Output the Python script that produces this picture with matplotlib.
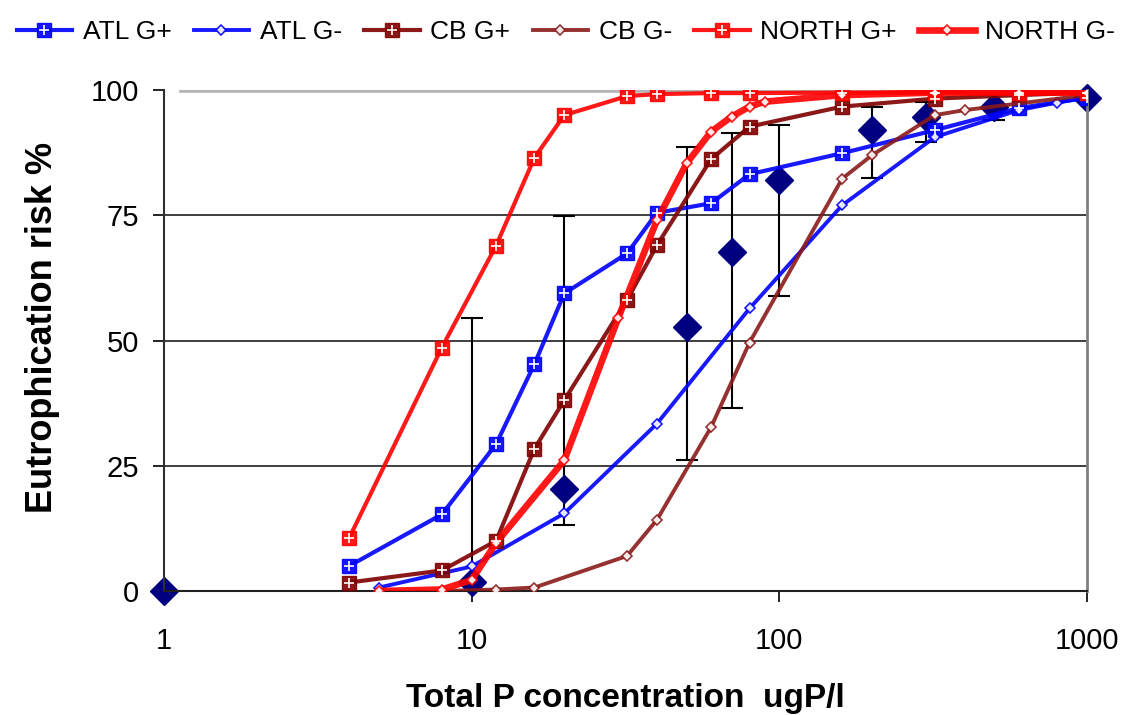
import matplotlib
matplotlib.use("Agg")
import matplotlib.pyplot as plt
from matplotlib.legend_handler import HandlerTuple

plt.rcParams['font.family'] = ['Liberation Sans', 'DejaVu Sans']

# model curves (risk %) against total P (ugP/l)
x_gplus = [4, 8, 12, 16, 20, 32, 40, 60, 80, 160, 320, 600, 1000]
atl_gplus = [5.0, 15.3, 29.3, 45.3, 59.4, 67.4, 75.5, 77.4, 83.2, 87.4, 92.0, 96.4, 98.5]
cb_gplus = [1.7, 4.1, 10.0, 28.4, 38.1, 58.1, 69.0, 86.2, 92.7, 96.7, 98.3, 99.0, 99.5]
north_gplus = [10.6, 48.6, 68.9, 86.5, 95.0, 98.8, 99.2, 99.4, 99.4, 99.5, 99.5, 99.5, 99.5]

x_atl_gminus = [5, 10, 20, 40, 80, 160, 320, 600, 800, 1000]
atl_gminus = [0.7, 4.9, 15.5, 33.4, 56.4, 77.0, 90.6, 96.0, 97.5, 98.5]

x_cb_gminus = [8, 12, 16, 32, 40, 60, 80, 160, 200, 320, 400, 1000]
cb_gminus = [0.0, 0.3, 0.7, 7.0, 14.2, 32.7, 49.6, 82.3, 87.0, 95.0, 96.0, 99.0]

x_north_gminus = [5, 8, 10, 12, 20, 30, 40, 50, 60, 70, 80, 90, 160, 320, 600, 1000]
north_gminus = [0.0, 0.3, 2.2, 9.6, 26.1, 54.6, 74.0, 85.4, 91.7, 94.7, 96.7, 97.7, 99.0, 99.5, 99.5, 99.5]

# observed values with error bar limits
obs_x = [1, 10, 20, 50, 70, 100, 200, 300, 500, 1000]
obs_y = [0.0, 1.9, 20.3, 52.7, 67.7, 82.0, 92.0, 94.6, 96.6, 98.4]
obs_lo = [0.0, 0.0, 13.2, 26.1, 36.6, 58.9, 82.5, 89.7, 94.0, 98.4]
obs_hi = [0.0, 54.5, 74.9, 88.7, 91.4, 93.0, 96.7, 97.7, 99.0, 98.4]

BLUE = '#0000ff'
DRED = '#800000'
RED = '#ff0000'

fig = plt.figure(figsize=(11.27, 7.15), dpi=100)
ax = fig.add_axes([0.1455, 0.1734, 0.819, 0.7006])

err_lo = [y - l for y, l in zip(obs_y, obs_lo)]
err_hi = [h - y for y, h in zip(obs_y, obs_hi)]
ax.errorbar(obs_x, obs_y, yerr=[err_lo, err_hi], fmt='none', ecolor='black',
            elinewidth=1.5, capsize=8, capthick=1.5, zorder=2)
ax.plot(obs_x, obs_y, linestyle='none', marker='D', markersize=14.5,
        color='#000080', zorder=2.5, clip_on=False)


def gplus(x, y, color, lw):
    ln, = ax.plot(x, y, color=color, lw=lw, marker='s', markersize=10,
                  markeredgecolor=color, zorder=3, alpha=0.9)
    pl, = ax.plot(x, y, linestyle='none', marker='+', markersize=7,
                  markeredgewidth=1.2, color='white', zorder=3.1)
    return (ln, pl)


def gminus(x, y, color, lw):
    ln, = ax.plot(x, y, color=color, lw=lw, marker='D', markersize=5,
                  markerfacecolor='white', markeredgecolor=color,
                  markeredgewidth=1.2, zorder=3, alpha=0.9)
    return ln


h1 = gplus(x_gplus, atl_gplus, BLUE, 3.0)
h2 = gminus(x_atl_gminus, atl_gminus, BLUE, 2.8)
h3 = gplus(x_gplus, cb_gplus, DRED, 3.0)
h4 = gminus(x_cb_gminus, cb_gminus, '#8b1a1a', 2.8)
h5 = gplus(x_gplus, north_gplus, RED, 3.0)
h6 = gminus(x_north_gminus, north_gminus, RED, 4.8)

ax.set_xscale('log')
ax.set_xlim(1, 1000)
ax.set_ylim(0, 100)
ax.set_xticks([1, 10, 100, 1000])
ax.set_xticklabels(['1', '10', '100', '1000'])
ax.xaxis.set_minor_locator(matplotlib.ticker.NullLocator())
ax.set_yticks([0, 25, 50, 75, 100])
ax.tick_params(axis='both', labelsize=21, length=8, width=1.2, direction='out')
ax.tick_params(axis='x', pad=18)
ax.tick_params(axis='y', pad=10)

for yv in [25, 50, 75]:
    ax.axhline(yv, color='#303030', lw=1.3, zorder=1)
ax.axhline(100, xmin=0.02, color='#b4b4b4', lw=4, zorder=1)

ax.spines['top'].set_visible(False)
ax.spines['right'].set_color('#808080')
ax.spines['right'].set_linewidth(2)
ax.spines['left'].set_color('#303030')
ax.spines['left'].set_linewidth(1.5)
ax.spines['bottom'].set_color('#202020')
ax.spines['bottom'].set_linewidth(1.5)

ax.set_xlabel('Total P concentration  ugP/l', fontsize=24, fontweight='bold', labelpad=20)
ax.set_ylabel('Eutrophication risk %', fontsize=26, fontweight='bold')
ax.yaxis.set_label_coords(-0.113, 0.527)

fig.legend([h1, h2, h3, h4, h5, h6],
           ['ATL G+', 'ATL G-', 'CB G+', 'CB G-', 'NORTH G+', 'NORTH G-'],
           handler_map={tuple: HandlerTuple(ndivide=1)},
           loc='upper center', bbox_to_anchor=(0.502, 1.005), ncol=6, frameon=False,
           fontsize=19, handlelength=2.1, handletextpad=0.4, columnspacing=0.85)

fig.savefig('out.png', dpi=100)
